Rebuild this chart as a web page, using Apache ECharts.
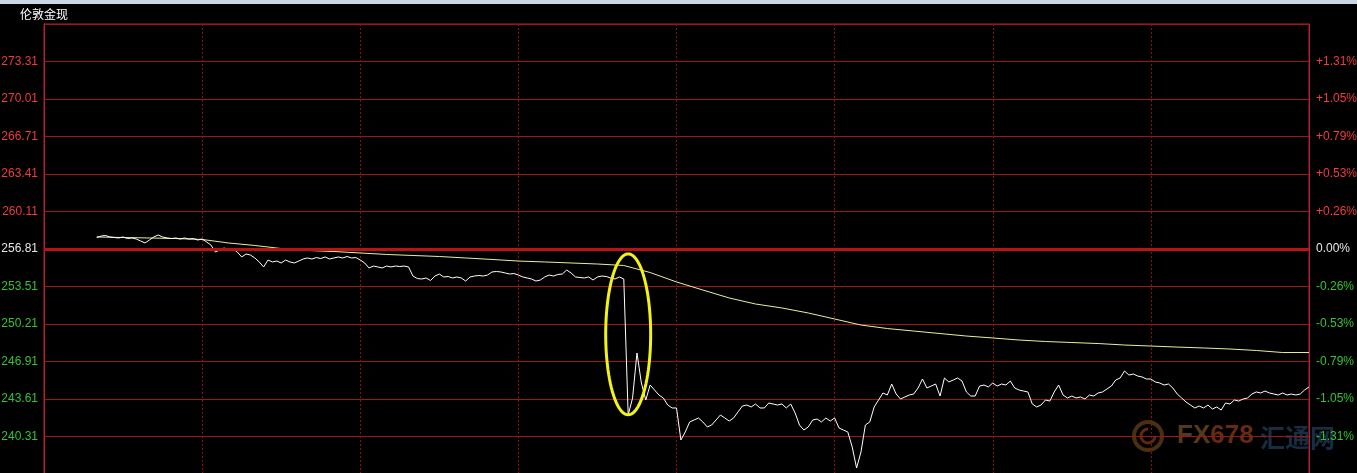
<!DOCTYPE html>
<html>
<head>
<meta charset="utf-8">
<script src="https://cdn.jsdelivr.net/npm/echarts@6/dist/echarts.min.js"></script>
<style>
html,body{margin:0;padding:0;background:#000;}
#chart{width:1357px;height:473px;}
</style>
</head>
<body>
<div id="chart"></div>
<script>
// ---- Data ----
const TITLE = '伦敦金现';
const START_MIN = 60;   // first sample, minutes from session start
const STEP_MIN = 5;     // minutes between price samples
const AVG_STEP_MIN = 30;
const PREV_CLOSE = 256.81;

const leftLabels = ['240.31','243.61','246.91','250.21','253.51','256.81','260.11','263.41','266.71','270.01','273.31'];
const rightLabels = ['-1.31%','-1.05%','-0.79%','-0.53%','-0.26%','0.00%','+0.26%','+0.53%','+0.79%','+1.05%','+1.31%'];

const price = [
257.82,257.95,258.00,257.87,257.82,257.78,257.87,257.73,257.78,257.69,
257.51,257.34,257.60,257.87,258.04,257.87,257.78,257.73,257.78,257.69,
257.78,257.69,257.73,257.60,257.69,257.43,257.16,256.55,256.72,256.90,
256.72,256.81,256.55,256.11,256.37,256.28,256.02,255.67,255.23,255.84,
255.67,255.75,255.58,255.84,255.67,255.58,255.75,255.93,256.02,255.93,
256.06,255.97,256.11,255.93,256.02,256.11,256.02,256.15,256.02,256.06,
255.84,255.58,255.14,255.31,255.23,255.14,255.31,255.23,255.31,255.27,
255.31,255.23,254.43,254.21,254.17,254.26,254.04,254.43,254.61,254.35,
254.39,254.26,254.35,254.26,253.99,254.35,254.43,254.48,254.43,254.52,
254.79,254.83,254.79,254.70,254.61,254.65,254.52,254.35,254.26,254.17,
253.99,254.08,254.35,254.52,254.43,254.57,254.61,254.96,254.70,254.35,
254.30,254.26,254.35,254.08,254.35,254.43,254.39,254.26,254.17,254.35,
254.17,242.20,243.70,247.66,245.02,243.52,244.84,244.40,243.96,243.70,
243.08,242.82,242.82,240.00,240.71,241.59,241.76,241.94,241.59,241.15,
241.32,241.76,242.20,241.94,241.67,241.94,242.47,242.99,243.08,242.91,
243.17,242.82,242.82,243.26,243.17,243.08,243.17,242.82,243.17,242.38,
241.32,240.88,241.15,241.76,241.85,241.59,241.94,241.67,241.94,241.06,
240.88,240.71,239.39,237.54,238.95,241.32,241.59,242.91,243.52,244.14,
243.96,244.93,244.05,243.61,243.79,243.96,244.05,244.58,245.37,244.58,
244.75,244.93,243.87,245.46,245.11,245.28,245.46,245.19,244.23,243.87,
243.87,244.75,244.84,244.67,245.02,244.75,244.93,244.84,245.19,244.58,
244.40,244.31,244.23,243.17,242.91,243.08,243.52,243.43,244.23,244.84,
243.96,243.70,243.87,243.70,243.79,243.61,243.96,243.87,244.14,244.23,
244.49,244.75,245.28,245.46,246.07,245.72,245.81,245.63,245.55,245.37,
245.37,245.11,245.02,244.84,244.93,244.58,244.05,243.70,243.35,243.08,
242.82,242.99,242.82,243.08,242.73,242.91,242.64,243.26,243.17,243.52,
243.43,243.61,243.70,244.05,244.23,244.14,244.31,244.14,244.05,243.96,
244.14,243.96,244.05,243.96,244.05,244.40,244.67
];

const avgPrice = [
257.87,257.82,257.78,257.73,257.65,257.34,257.12,256.85,256.68,256.59,
256.46,256.33,256.24,256.15,256.02,255.89,255.75,255.67,255.58,255.49,
255.36,254.74,253.91,253.20,252.50,251.97,251.62,251.18,250.65,250.12,
249.81,249.59,249.37,249.15,248.98,248.80,248.67,248.58,248.49,248.36,
248.27,248.18,248.10,248.01,247.88,247.70,247.70
];

// highlight ellipse (time centre, price centre, half width in minutes, half height in price)
const highlight = [665, 249.3, 25.6, 7.08];

// axis scale
const Y_MIN = 237.01, Y_MAX = 276.61, Y_INTERVAL = 3.3;
const X_MIN = 0, X_MAX = 1440, X_INTERVAL = 180;

// ---- Build ----
const priceData = price.map((v, i) => [START_MIN + i * STEP_MIN, v]);
const avgData = avgPrice.map((v, i) => [START_MIN + i * AVG_STEP_MIN, v]);

const RED = '#f03c3c', GREEN = '#33c433', WHITE = '#e6e6e6';
const GRID_RED = '#9c1616';

function tickIndex(v){ return Math.round((v - Y_MIN) / Y_INTERVAL) - 1; }
function labelColor(v){
  const d = v - PREV_CLOSE;
  if (Math.abs(d) < 0.01) return WHITE;
  return d > 0 ? RED : GREEN;
}

const chart = echarts.init(document.getElementById('chart'), null, {renderer:'canvas'});
chart.setOption({
  backgroundColor: '#000',
  animation: false,
  grid: {left: 44, right: 48, top: 24, height: 450, show: true, borderColor: '#b02030', borderWidth: 1,
         backgroundColor: 'transparent', containLabel: false, outerBoundsMode: 'none'},
  xAxis: {
    type: 'value', min: X_MIN, max: X_MAX, interval: X_INTERVAL,
    axisLine: {show: false}, axisTick: {show: false}, axisLabel: {show: false},
    splitLine: {show: true, lineStyle: {color: '#8a1212', width: 1, type: [2, 2]}}
  },
  yAxis: [{
    type: 'value', position: 'left', min: Y_MIN, max: Y_MAX, interval: Y_INTERVAL,
    axisLine: {show: true, lineStyle: {color: '#b02030', width: 1}},
    axisTick: {show: false},
    axisLabel: {
      margin: 6, fontSize: 12, fontFamily: 'Liberation Sans, Arial, sans-serif',
      formatter: v => leftLabels[tickIndex(v)] || '',
      color: v => labelColor(v)
    },
    splitLine: {show: true, lineStyle: {color: GRID_RED, width: 1}}
  }, {
    type: 'value', position: 'right', min: Y_MIN, max: Y_MAX, interval: Y_INTERVAL,
    axisLine: {show: true, lineStyle: {color: '#b02030', width: 1}},
    axisTick: {show: false},
    axisLabel: {
      margin: 7, fontSize: 12, fontFamily: 'Liberation Sans, Arial, sans-serif',
      formatter: v => rightLabels[tickIndex(v)] || '',
      color: v => labelColor(v)
    },
    splitLine: {show: false}
  }],
  series: [{
    name: 'base', type: 'line', data: [], z: 1,
    markLine: {
      silent: true, symbol: 'none', label: {show: false},
      lineStyle: {color: '#b81414', width: 3, type: 'solid'},
      data: [{yAxis: PREV_CLOSE}]
    }
  }, {
    name: '均价', type: 'line', data: avgData, z: 2,
    showSymbol: false, symbol: 'none',
    lineStyle: {color: '#eded9c', width: 1}
  }, {
    name: '价格', type: 'line', data: priceData, z: 3,
    showSymbol: false, symbol: 'none',
    lineStyle: {color: '#ffffff', width: 1}
  }, {
    name: 'highlight', type: 'custom', z: 4, silent: true,
    data: [highlight],
    renderItem: function(params, api){
      const c = api.coord([api.value(0), api.value(1)]);
      const s = api.size([api.value(2), api.value(3)]);
      const pts = [];
      for (let k = 0; k < 96; k++) {
        const a = k / 96 * Math.PI * 2;
        pts.push([c[0] + s[0] * Math.cos(a), c[1] + s[1] * Math.sin(a)]);
      }
      return {type: 'polygon', shape: {points: pts}, style: {fill: 'none', stroke: '#f2f214', lineWidth: 3}};
    }
  }],
  graphic: [
    {type: 'rect', left: 0, top: 0, shape: {width: 1357, height: 4}, style: {fill: '#c9d6e4'}, z: 10},
    {type: 'text', left: 20, top: 8, style: {text: TITLE, fill: '#ffffff', font: '12px "Noto Sans CJK SC", sans-serif'}, z: 10},
    {type: 'circle', shape: {cx: 1148, cy: 436, r: 14}, style: {fill: 'none', stroke: '#4a3010', lineWidth: 4}, z: 0},
    {type: 'arc', shape: {cx: 1148, cy: 436, r: 7, startAngle: 0, endAngle: Math.PI * 1.5}, style: {fill: 'none', stroke: '#5e2812', lineWidth: 3}, z: 0},
    {type: 'text', x: 1177, y: 436, z: 0, style: {
      text: '{a|FX}{b|678}', verticalAlign: 'middle',
      rich: {a: {fill: '#54391a', font: 'bold 26px "Liberation Sans", Arial'}, b: {fill: '#652a12', font: 'bold 26px "Liberation Sans", Arial'}}
    }},
    {type: 'text', x: 1260, y: 437, z: 0, style: {text: '汇通网', verticalAlign: 'middle', fill: '#182c42', font: 'bold 25px "Noto Sans CJK SC", sans-serif'}}
  ]
});
</script>
</body>
</html>
